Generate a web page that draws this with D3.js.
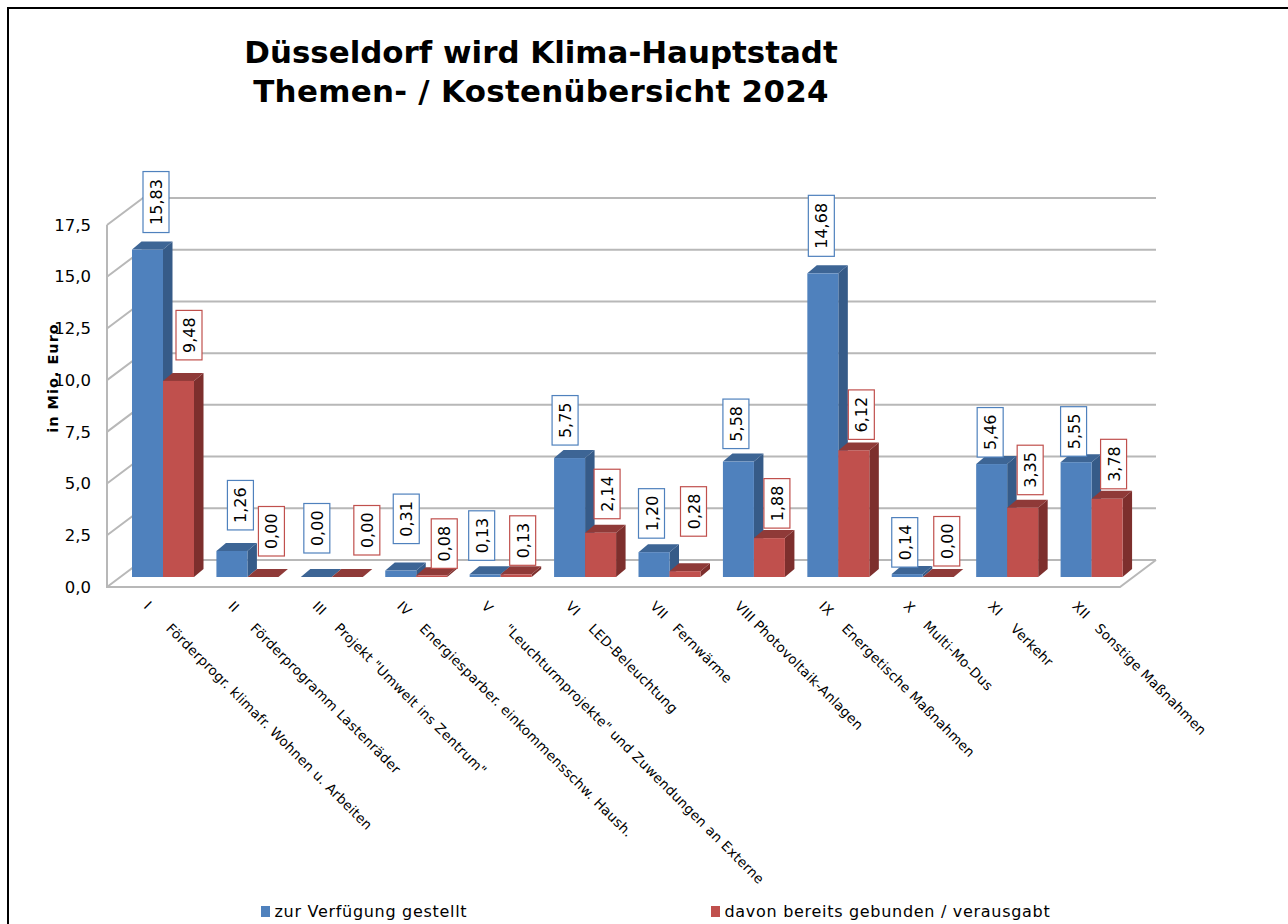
<!DOCTYPE html>
<html>
<head>
<meta charset="utf-8">
<title>Düsseldorf wird Klima-Hauptstadt</title>
<script src="https://cdnjs.cloudflare.com/ajax/libs/d3/7.8.5/d3.min.js"></script>
<style>
  body { margin: 0; background: #fff; }
  svg { display: block; }
  text { font-family: "DejaVu Sans", sans-serif; fill: #000; }
  .cat { white-space: pre; }
</style>
</head>
<body>
<div id="chart"></div>
<script>
// Data
const categories = [
  "I      Förderprogr. klimafr. Wohnen u. Arbeiten",
  "II     Förderprogramm Lastenräder",
  "III    Projekt \"Umwelt ins Zentrum\"",
  "IV    Energiesparber. einkommensschw. Haush.",
  "V     \"Leuchturmprojekte\" und Zuwendungen an Externe",
  "VI    LED-Beleuchtung",
  "VII   Fernwärme",
  "VIII Photovoltaik-Anlagen",
  "IX    Energetische Maßnahmen",
  "X    Multi-Mo-Dus",
  "XI    Verkehr",
  "XII   Sonstige Maßnahmen"
];
const available = [15.83, 1.26, 0.00, 0.31, 0.13, 5.75, 1.20, 5.58, 14.68, 0.14, 5.46, 5.55];
const committed = [9.48, 0.00, 0.00, 0.08, 0.13, 2.14, 0.28, 1.88, 6.12, 0.00, 3.35, 3.78];
const yTicks = [0, 2.5, 5, 7.5, 10, 12.5, 15, 17.5];
const titleLines = ["Düsseldorf wird Klima-Hauptstadt", "Themen- / Kostenübersicht 2024"];
const seriesNames = ["zur Verfügung gestellt", "davon bereits gebunden / verausgabt"];

// Layout tweaks for the label boxes, the original moves them around by hand
const blueNudge = [[0,0],[0,-4],[-8,-7],[-3,-10],[-12,3],[-13,4],[-11,3],[-11,4],[-10,0],[-11,10],[-10,10],[-11,11]];
const redNudge = [[2,-4],[0,-4],[11,-5],[4,10],[-2,8],[-2,3],[0,-18],[-1,7],[-1,6],[0,6],[-1,4],[-2,7]];

const width = 1288;
const height = 924;
const wallDx = 36;
const wallDy = -27;
const barShiftX = 25;
const barShiftY = -10;
const depthX = 9.5;
const depthY = -8;

const svg = d3.select("#chart").append("svg")
  .attr("width", width)
  .attr("height", height);

const x = d3.scaleBand().domain(categories).range([107, 1120]);
const sub = d3.scaleBand().domain([0, 1]).range([0, 62]);
const y = d3.scaleLinear().domain([0, 17.5]).range([587, 225]);
const fmt = v => d3.format(".1f")(v).replace(".", ",");
const fmt2 = v => d3.format(".2f")(v).replace(".", ",");

// Outer border, only top and left are in the picture
svg.append("path")
  .attr("d", `M8,${height}V8H${width}`)
  .attr("fill", "none")
  .attr("stroke", "#000")
  .attr("stroke-width", 2);

// Title
svg.append("g").selectAll("text")
  .data(titleLines)
  .enter()
  .append("text")
  .attr("x", 541)
  .attr("y", (d, i) => 63 + i * 39)
  .attr("text-anchor", "middle")
  .attr("font-weight", "bold")
  .attr("font-size", 30.9)
  .attr("letter-spacing", (d, i) => (i === 1 ? 0.3 : 0))
  .text(d => d);

// Walls
const wall = svg.append("g")
  .attr("fill", "none")
  .attr("stroke", "#b8b8b8")
  .attr("stroke-width", 2);

wall.selectAll(".grid")
  .data(yTicks)
  .enter()
  .append("path")
  .attr("d", d => `M107,${y(d)}L${107 + wallDx},${y(d) + wallDy}H1156`);

wall.append("path")
  .attr("d", `M107,${y(17.5)}V${y(0)}H1120L1156,${y(0) + wallDy}`);

// Y axis
const axis = svg.append("g")
  .attr("transform", "translate(91,0)")
  .call(d3.axisLeft(y).tickValues(yTicks).tickSize(0).tickPadding(0).tickFormat(fmt));
axis.select(".domain").remove();
axis.selectAll("text")
  .attr("font-size", 16.5)
  .style("font-family", "'DejaVu Sans', sans-serif");

svg.append("text")
  .attr("transform", "translate(58,378) rotate(-90)")
  .attr("text-anchor", "middle")
  .attr("font-weight", "bold")
  .attr("font-size", 14.5)
  .attr("letter-spacing", 1)
  .text("in Mio. Euro");

// Bars
const series = [
  { values: available, front: "#4f81bd", side: "#365b88", top: "#3d6595", nudge: blueNudge },
  { values: committed, front: "#c0504d", side: "#7d2f2d", top: "#8f3a38", nudge: redNudge }
];

const barLeft = (i, s) => x(categories[i]) + barShiftX + sub(s);
const barTop = v => y(v) + barShiftY;
const barBase = y(0) + barShiftY;
const bw = sub.bandwidth();

categories.forEach((cat, i) => {
  series.forEach((s, k) => {
    const v = s.values[i];
    const l = barLeft(i, k);
    const t = barTop(v);
    const g = svg.append("g");

    g.append("path")
      .attr("fill", s.side)
      .attr("d", `M${l + bw},${t}L${l + bw + depthX},${t + depthY}V${barBase + depthY}L${l + bw},${barBase}Z`);
    g.append("path")
      .attr("fill", s.top)
      .attr("d", `M${l},${t}L${l + depthX},${t + depthY}H${l + bw + depthX}L${l + bw},${t}Z`);
    g.append("rect")
      .attr("x", l)
      .attr("y", t)
      .attr("width", bw)
      .attr("height", barBase - t)
      .attr("fill", s.front);
  });
});

// Value labels in boxes
series.forEach((s, k) => {
  const labels = svg.append("g").selectAll("g")
    .data(s.values)
    .enter()
    .append("g")
    .attr("transform", (d, i) => {
      const bx = barLeft(i, k) + 11 + s.nudge[i][0];
      const by = barTop(d) - 17 + s.nudge[i][1];
      return `translate(${bx},${by})`;
    });

  labels.append("rect")
    .attr("x", 0)
    .attr("y", d => -(fmt2(d).length === 5 ? 61 : 49.5))
    .attr("width", 26)
    .attr("height", d => (fmt2(d).length === 5 ? 61 : 49.5))
    .attr("fill", "#fff")
    .attr("stroke", s.front)
    .attr("stroke-width", 1.2);

  labels.append("text")
    .attr("transform", d => `translate(19,${-(fmt2(d).length === 5 ? 30.5 : 24.75)}) rotate(-90)`)
    .attr("text-anchor", "middle")
    .attr("font-size", 16)
    .text(fmt2);
});

// Category labels, 45 degrees down
svg.append("g").selectAll("text")
  .data(categories)
  .enter()
  .append("text")
  .attr("class", "cat")
  .attr("transform", d => `translate(${x(d) + 36},607) rotate(45)`)
  .attr("font-size", 13.5)
  .attr("letter-spacing", 0.25)
  .text(d => d);

// Legend
const legendX = [261, 711];
const legend = svg.append("g").selectAll("g")
  .data(seriesNames)
  .enter()
  .append("g")
  .attr("transform", (d, i) => `translate(${legendX[i]},906)`);

legend.append("rect")
  .attr("width", 9)
  .attr("height", 11)
  .attr("fill", (d, i) => series[i].front);

legend.append("text")
  .attr("x", 13.5)
  .attr("y", 11)
  .attr("font-size", 16)
  .attr("letter-spacing", 0.7)
  .text(d => d);
</script>
</body>
</html>
